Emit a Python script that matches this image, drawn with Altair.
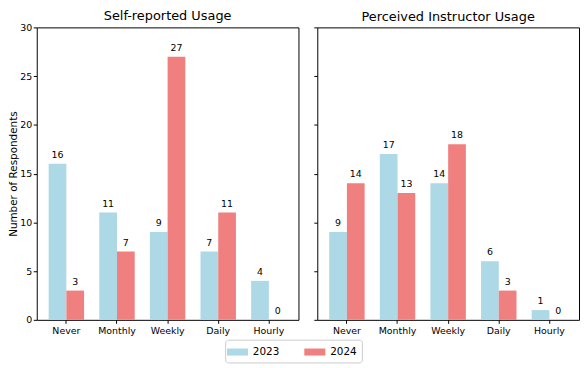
import altair as alt
import pandas as pd

categories = ["Never", "Monthly", "Weekly", "Daily", "Hourly"]
years = ["2023", "2024"]
self_2023 = [16, 11, 9, 7, 4]
self_2024 = [3, 7, 27, 11, 0]
instr_2023 = [9, 17, 14, 6, 1]
instr_2024 = [14, 13, 18, 3, 0]
panel_titles = ["Self-reported Usage", "Perceived Instructor Usage"]
colors = ["#ADD8E6", "#F08080"]
y_ticks = [0, 5, 10, 15, 20, 25, 30]

FONT = "DejaVu Sans"
H = 295
W = 264


def make_df(v23, v24):
    rows = []
    for c, a, b in zip(categories, v23, v24):
        rows.append({"cat": c, "year": "2023", "value": a})
        rows.append({"cat": c, "year": "2024", "value": b})
    return pd.DataFrame(rows)


def panel(df, title, first):
    base = alt.Chart(df).encode(
        x=alt.X("cat:N", sort=categories,
                scale=alt.Scale(paddingInner=0.3, paddingOuter=0.235),
                axis=alt.Axis(title=None, labelAngle=0, domain=False,
                              ticks=True, tickSize=3.5, tickColor="black",
                              labelColor="black", labelFontSize=9.5,
                              labelFont=FONT, labelPadding=2)),
        xOffset=alt.XOffset("year:N", sort=years,
                            scale=alt.Scale(paddingInner=0, paddingOuter=0)),
    )
    yaxis = alt.Axis(
        title="Number of Respondents" if first else None,
        labels=first, values=y_ticks, grid=False, domain=False,
        ticks=True, tickSize=3.5, tickColor="black", labelColor="black",
        labelFontSize=9.5, labelFont=FONT, labelPadding=1.5,
        titleFontSize=10.5, titleFont=FONT, titleFontWeight="normal",
        titleColor="black", titlePadding=1,
    )
    bars = base.mark_bar().encode(
        y=alt.Y("value:Q", scale=alt.Scale(domain=[0, 30], nice=False),
                axis=yaxis),
        color=alt.Color("year:N", sort=years,
                        scale=alt.Scale(domain=years, range=colors),
                        legend=alt.Legend(title=None)),
    )
    text = base.mark_text(baseline="bottom", dy=-4, fontSize=9.5,
                          font=FONT, color="black").encode(
        y=alt.Y("value:Q"),
        text=alt.Text("value:Q"),
    )
    return alt.layer(bars, text).properties(
        width=W, height=H,
        title=alt.TitleParams(title, fontSize=13, font=FONT,
                              fontWeight="normal", color="black",
                              offset=-1 if first else 3),
    )


left = panel(make_df(self_2023, self_2024), panel_titles[0], True)
right = panel(make_df(instr_2023, instr_2024), panel_titles[1], False)

chart = alt.hconcat(left, right, spacing=13).properties(
    padding=0
).configure_view(
    stroke="black", strokeWidth=1
).configure_legend(
    orient="none", legendX=190, legendY=H + 20,
    direction="horizontal",
    labelFontSize=10.5, labelFont=FONT, labelColor="black",
    symbolType="M-1.5,-0.5L1.5,-0.5L1.5,0.5L-1.5,0.5Z",
    symbolSize=200, symbolStrokeWidth=0, symbolOpacity=1,
    strokeColor="#cccccc", cornerRadius=3, padding=5,
    columnPadding=24, labelOffset=8,
)

chart.save("out.html", embed_options={"renderer": "svg", "actions": False})
